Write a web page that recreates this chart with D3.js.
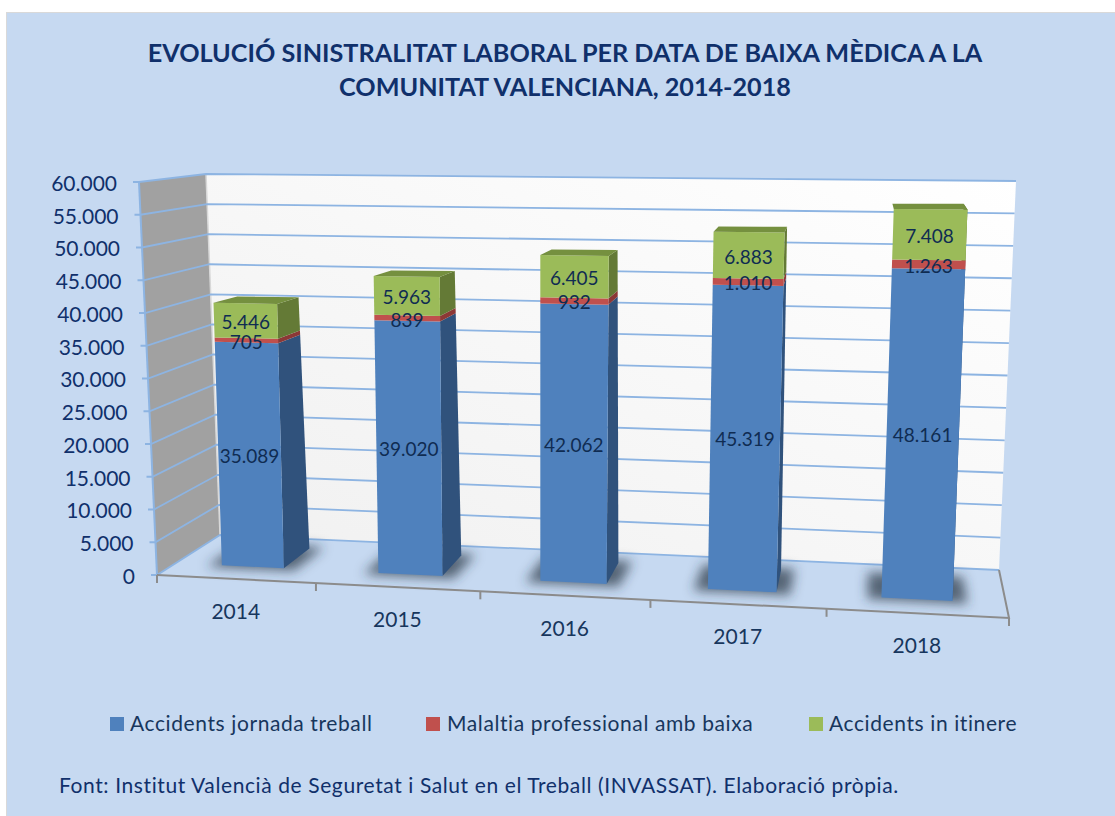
<!DOCTYPE html>
<html><head><meta charset="utf-8">
<style>html,body{margin:0;padding:0;background:#fff}svg{display:block}text{font-family:Lato,"Open Sans",sans-serif}</style>
<script src="https://cdn.jsdelivr.net/npm/d3@7/dist/d3.min.js"></script>
</head><body><script>
const categories=["2014","2015","2016","2017","2018"];
const accidents=[35089,39020,42062,45319,48161];
const malaltia=[705,839,932,1010,1263];
const itinere=[5446,5963,6405,6883,7408];
const seriesNames=["Accidents jornada treball","Malaltia professional amb baixa","Accidents in itinere"];
const valueTicks=d3.range(0,60001,5000);
const titleLines=["EVOLUCIÓ SINISTRALITAT LABORAL PER DATA DE BAIXA MÈDICA A LA","COMUNITAT VALENCIANA, 2014-2018"];
const sourceText="Font: Institut Valencià de Seguretat i Salut en el Treball (INVASSAT). Elaboració pròpia.";

const W=1115,H=816;
const svg=d3.select("body").append("svg").attr("width",W).attr("height",H);
const defs=svg.append("defs");
defs.append("filter").attr("id","blur").attr("x","-50%").attr("y","-80%").attr("width","200%").attr("height","260%")
  .append("feGaussianBlur").attr("stdDeviation",6);
const grad=defs.append("linearGradient").attr("id","wall").attr("x1",1).attr("y1",0).attr("x2",0).attr("y2",1);
grad.append("stop").attr("offset",0).attr("stop-color","#ffffff");
grad.append("stop").attr("offset",1).attr("stop-color","#f0f0f0");

svg.append("rect").attr("x",6).attr("y",12).attr("width",W-6).attr("height",H-12).attr("fill","#d9d9d9");
svg.append("rect").attr("x",7).attr("y",13).attr("width",W-7).attr("height",H-13).attr("fill","#c6d9f1");

// 3D chart box: s across categories, v up, w into the page
const boxCorners={
 f:{b:{l:[157,575],r:[1009,618]},t:{l:[139,182],r:[1028,195]}},
 k:{b:{l:[220,535],r:[999,570]},t:{l:[206,174],r:[1016,181]}}
};
// volume in which the bars stand: front faces (f) and rear faces (k)
const barCorners={
 f:{b:{l:[175.9,563],r:[1006.6,603.6]},t:{l:[162,183],r:[1024.4,188]}},
 k:{b:{l:[206.1,543.8],r:[1001.2,580.6]},t:{l:[185.3,183],r:[1018.6,183]}}
};
const persp=1.09;
const warp=t=>t/(t+persp*(1-t));
const mix=(a,b,s)=>[a[0]+(b[0]-a[0])*s,a[1]+(b[1]-a[1])*s];
function project(c,t,v,w){
  const s=warp(t);
  const fb=mix(c.f.b.l,c.f.b.r,s),ft=mix(c.f.t.l,c.f.t.r,s);
  const kb=mix(c.k.b.l,c.k.b.r,s),kt=mix(c.k.t.l,c.k.t.r,s);
  return mix(mix(fb,ft,v),mix(kb,kt,v),w);
}
const proj=(t,v,w)=>project(boxCorners,t,v,w);
const bar=(t,v,w)=>project(barCorners,t,v,w);
const y=d3.scaleLinear().domain([0,60000]).range([0,1]);
const x=d3.scaleBand().domain(categories).range([0,1]).paddingInner(.6).paddingOuter(.3);
const pts=a=>a.map(p=>p.join(",")).join(" ");
const gridBlue="#8db4e2";
const fmt=n=>d3.format(",")(n).replace(/,/g,".");

// walls
const g=svg.append("g");
g.append("polygon").attr("points",pts([proj(0,0,0),proj(0,1,0),proj(0,1,1),proj(0,0,1)])).attr("fill","#a1a1a1");
g.append("polygon").attr("points",pts([proj(0,0,1),proj(0,1,1),proj(1,1,1),proj(1,0,1)])).attr("fill","url(#wall)");
g.append("line").attr("x1",proj(0,0,1)[0]).attr("y1",proj(0,0,1)[1]).attr("x2",proj(0,1,1)[0]).attr("y2",proj(0,1,1)[1]).attr("stroke","#d8d8d8").attr("stroke-width",1.5);

// grid lines
valueTicks.forEach(val=>{
  const v=y(val),a=proj(0,v,0),b=proj(0,v,1),c=proj(1,v,1);
  g.append("polyline").attr("points",pts([[a[0]-6,a[1]],a,b,c])).attr("fill","none").attr("stroke",gridBlue).attr("stroke-width",1.8);
  g.append("text").attr("x",a[0]-22).attr("y",a[1]+1.7).attr("dy","0.34em").attr("text-anchor","end")
    .attr("font-size",21).attr("fill","#10306b").text(fmt(val));
});
g.append("line").attr("x1",proj(0,0,0)[0]).attr("y1",proj(0,0,0)[1]).attr("x2",proj(0,1,0)[0]).attr("y2",proj(0,1,0)[1]).attr("stroke",gridBlue).attr("stroke-width",2);

// category axis on the floor front
const axisGrey="#8c8c8c";
const p0=proj(0,0,0),p1=proj(1,0,0),p2=proj(1,0,1);
g.append("polyline").attr("points",pts([p0,p1,p2])).attr("fill","none").attr("stroke",axisGrey).attr("stroke-width",2);
d3.range(0,6).forEach(i=>{
  const p=proj(i/5,0,0);
  g.append("line").attr("x1",p[0]).attr("y1",p[1]).attr("x2",p[0]).attr("y2",p[1]+8).attr("stroke",axisGrey).attr("stroke-width",2);
});
categories.forEach(c=>{
  const p=proj(x(c)+x.bandwidth()/2,0,0);
  g.append("text").attr("x",p[0]).attr("y",p[1]+33).attr("dy","0.34em").attr("text-anchor","middle")
    .attr("font-size",21).attr("fill","#17365d").text(c);
});

// bars
const segs=[
 {vals:accidents,front:"#4f81bd",side:"#30527c"},
 {vals:malaltia,front:"#c0504d",side:"#8c3836"},
 {vals:itinere,front:"#9bbb59",side:"#647a36",top:"#75903f"}
];
categories.forEach((c,i)=>{
  const t0=x(c),t1=t0+x.bandwidth();
  g.append("polygon").attr("points",pts([bar(t0-.016,0,-.1),bar(t1+.016,0,-.1),bar(t1+.016,0,1.1),bar(t0-.016,0,1.1)]))
    .attr("fill","#2b3646").attr("fill-opacity",.72).attr("filter","url(#blur)");
  let base=0;
  const labels=[];
  segs.forEach(s=>{
    const val=s.vals[i],a=y(base),b=y(base+val);
    g.append("polygon").attr("points",pts([bar(t1,a,0),bar(t1,b,0),bar(t1,b,1),bar(t1,a,1)])).attr("fill",s.side);
    g.append("polygon").attr("points",pts([bar(t0,a,0),bar(t0,b,0),bar(t1,b,0),bar(t1,a,0)])).attr("fill",s.front);
    if(s.top) g.append("polygon").attr("points",pts([bar(t0,b,0),bar(t1,b,0),bar(t1,b,1),bar(t0,b,1)])).attr("fill",s.top);
    labels.push({val,p:bar((t0+t1)/2,y(base+val/2),0)});
    base+=val;
  });
  labels.forEach(l=>g.append("text").attr("x",l.p[0]).attr("y",l.p[1]+2).attr("dy","0.34em").attr("text-anchor","middle")
    .attr("font-size",19).attr("fill","#0f2c52").text(fmt(l.val)));
});

// title
titleLines.forEach((l,i)=>svg.append("text").attr("x",565).attr("y",53+i*34).attr("dy","0.34em").attr("text-anchor","middle")
  .attr("font-size",25.2).attr("font-weight",700).attr("fill","#10306b").text(l));

// legend
const legendX=[110,426,809],legendTextX=[130,447,829],legendColor=segs.map(s=>s.front);
seriesNames.forEach((n,i)=>{
  svg.append("rect").attr("x",legendX[i]).attr("y",717).attr("width",14).attr("height",14).attr("fill",legendColor[i]);
  svg.append("text").attr("x",legendTextX[i]).attr("y",724).attr("dy","0.34em").attr("font-size",21).attr("letter-spacing",.6).attr("fill","#17365d").text(n);
});
svg.append("text").attr("x",59).attr("y",786).attr("dy","0.34em").attr("font-size",21).attr("letter-spacing",.6).attr("fill","#10306b").text(sourceText);
</script></body></html>
